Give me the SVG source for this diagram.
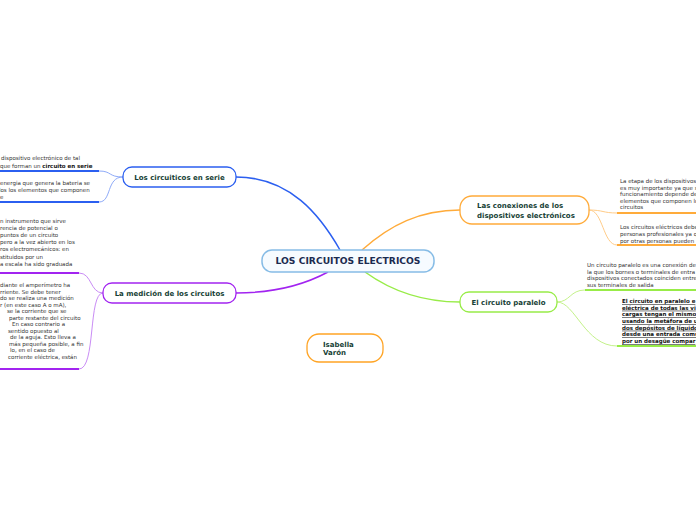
<svg xmlns="http://www.w3.org/2000/svg" width="696" height="520" viewBox="0 0 696 520">
<style>
.bg{fill:#ffffff}
.node{fill:#ffffff;stroke-width:1.3}
.lbl{font-family:"DejaVu Sans",Verdana,sans-serif;font-weight:bold;font-size:7px;fill:#173f36}
.root{font-family:"DejaVu Sans",Verdana,sans-serif;font-weight:bold;font-size:9.2px;fill:#1b2b50}
.leaf{font-family:"DejaVu Sans",Verdana,sans-serif;font-size:5.5px;fill:#333333}
.leafb{font-family:"DejaVu Sans",Verdana,sans-serif;font-size:5.5px;font-weight:bold;fill:#111111;text-decoration:underline}
.b{font-weight:bold;fill:#111111}
.main{fill:none;stroke-width:1.5}
.sub{fill:none;stroke-width:1}
.ul{fill:none;stroke-width:2}
</style>
<rect class="bg" x="0" y="0" width="696" height="520"/>
<g id="connectors">
  <path class="main" stroke="#2b5ff0" d="M340,250 C320,215 290,177 236,177"/>
  <path class="main" stroke="#ffab3a" d="M362,250 C390,225 420,210 460,210"/>
  <path class="main" stroke="#98ec48" d="M365,272 C390,290 420,302 460,302"/>
  <path class="main" stroke="#a224f0" d="M328,272 C300,287 270,293 236,293"/>
  <path class="sub" stroke="#8eaaf8" d="M123,177 C108,177 112,171 99,171"/>
  <path class="sub" stroke="#8eaaf8" d="M123,177 C106,177 112,202 99,202"/>
  <path class="ul" stroke="#2b5ff0" d="M0,171 H99"/>
  <path class="ul" stroke="#2b5ff0" d="M0,202 H99"/>
  <path class="sub" stroke="#c98cf5" d="M103,293 C90,293 92,273 79,273"/>
  <path class="sub" stroke="#c98cf5" d="M103,293 C88,293 96,369 79,369"/>
  <path class="ul" stroke="#a224f0" d="M0,273 H79"/>
  <path class="ul" stroke="#a224f0" d="M0,369 H79"/>
  <path class="sub" stroke="#ffcc88" d="M589,210 C603,210 603,213 617,213"/>
  <path class="sub" stroke="#ffcc88" d="M589,210 C603,210 603,245 617,245"/>
  <path class="ul" stroke="#ffab3a" d="M617,213 H696"/>
  <path class="ul" stroke="#ffab3a" d="M617,245 H696"/>
  <path class="sub" stroke="#c4f28a" d="M557,302 C570,302 570,290 585,290"/>
  <path class="sub" stroke="#c4f28a" d="M557,302 C575,302 585,346 617,346"/>
  <path class="ul" stroke="#98ec48" d="M585,290 H696"/>
  <path class="ul" stroke="#98ec48" d="M617,346 H696"/>
</g>
<g id="root">
  <rect x="262" y="250" width="172" height="22" rx="10" fill="#f6fbff" stroke="#86bce6" stroke-width="1.5"/>
  <text class="root" x="348" y="264" text-anchor="middle">LOS CIRCUITOS ELECTRICOS</text>
</g>
<g id="serie">
  <rect class="node" x="123" y="167" width="113" height="20" rx="9" stroke="#2b5ff0"/>
  <text class="lbl" x="179.5" y="180" text-anchor="middle">Los circuiticos en serie</text>
</g>
<g id="medicion">
  <rect class="node" x="103" y="283" width="133" height="20" rx="9" stroke="#a224f0"/>
  <text class="lbl" x="169.5" y="295.5" text-anchor="middle">La medición de los circuitos</text>
</g>
<g id="conexiones">
  <rect class="node" x="460" y="196" width="129" height="28" rx="12" stroke="#ffab3a"/>
  <text class="lbl" x="477" y="208">Las conexiones de los</text>
  <text class="lbl" x="477" y="217.5">dispositivos electrónicos</text>
</g>
<g id="paralelo">
  <rect class="node" x="460" y="292" width="97" height="20" rx="9" stroke="#98ec48"/>
  <text class="lbl" x="508.5" y="305" text-anchor="middle">El circuito paralelo</text>
</g>
<g id="autor">
  <rect class="node" x="307" y="334" width="76" height="28" rx="12" stroke="#ffa424"/>
  <text class="lbl" x="323" y="347">Isabella</text>
  <text class="lbl" x="323" y="355">Varón</text>
</g>
<g id="serie-leaf1">
  <text class="leaf" x="1" y="160">dispositivo electrónico de tal</text>
  <text class="leaf" x="0" y="167.5">que forman un <tspan class="b">circuito en serie</tspan></text>
</g>
<g id="serie-leaf2">
  <text class="leaf" x="0" y="185">energia que genera la bateria se</text>
  <text class="leaf" x="-3" y="192">dos los elementos que componen</text>
  <text class="leaf" x="0" y="199">e</text>
</g>
<g id="medicion-leaf1">
  <text class="leaf" x="0" y="222.5">n instrumento que sirve</text>
  <text class="leaf" x="0" y="229.7">rencia de potencial o</text>
  <text class="leaf" x="0" y="236.9">puntos de un circuito</text>
  <text class="leaf" x="0" y="244.1">pero a la vez abierto en los</text>
  <text class="leaf" x="0" y="251.3">ros electromecánicos: en</text>
  <text class="leaf" x="0" y="258.5">stituidos por un</text>
  <text class="leaf" x="0" y="265.7">a escala ha sido graduada</text>
</g>
<g id="medicion-leaf2">
  <text class="leaf" x="0" y="287">diante el amperímetro ha</text>
  <text class="leaf" x="0" y="293.5">rriente. Se debe tener</text>
  <text class="leaf" x="0" y="300">do se realiza una medición</text>
  <text class="leaf" x="0" y="306.5">r (en este caso A o mA),</text>
  <text class="leaf" x="7" y="313">se la corriente que se</text>
  <text class="leaf" x="9" y="319.5">parte restante del circuito</text>
  <text class="leaf" x="12" y="326">En caso contrario a</text>
  <text class="leaf" x="8" y="332.5">sentido opuesto al</text>
  <text class="leaf" x="10" y="339">de la aguja. Esto lleva a</text>
  <text class="leaf" x="9" y="345.5">más pequeña posible, a fin</text>
  <text class="leaf" x="10" y="352">lo, en el caso de</text>
  <text class="leaf" x="8" y="358.5">corriente eléctrica, están</text>
</g>
<g id="conexiones-leaf1">
  <text class="leaf" x="620" y="183">La etapa de los dispositivos</text>
  <text class="leaf" x="620" y="189.6">es muy importante ya que s</text>
  <text class="leaf" x="620" y="196.2">funcionamiento depende de</text>
  <text class="leaf" x="620" y="202.8">elementos que componen lo</text>
  <text class="leaf" x="620" y="209.4">circuitos</text>
</g>
<g id="conexiones-leaf2">
  <text class="leaf" x="620" y="228.5">Los circuitos eléctricos debe</text>
  <text class="leaf" x="620" y="235.5">personas profesionales ya q</text>
  <text class="leaf" x="620" y="242.5">por otras personas pueden</text>
</g>
<g id="paralelo-leaf1">
  <text class="leaf" x="587" y="267">Un circuito paralelo es una conexión de</text>
  <text class="leaf" x="587" y="273.6">la que los bornes o terminales de entra</text>
  <text class="leaf" x="587" y="280.2">dispositivos conectados coinciden entre</text>
  <text class="leaf" x="587" y="286.8">sus terminales de salida</text>
</g>
<g id="paralelo-leaf2">
  <text class="leafb" x="622" y="303">El circuito en paralelo e</text>
  <text class="leafb" x="622" y="309.7">eléctrica de todas las vi</text>
  <text class="leafb" x="622" y="316.3">cargas tengan el mismo</text>
  <text class="leafb" x="622" y="323">usando la metáfora de u</text>
  <text class="leafb" x="622" y="329.7">dos depósitos de líquido</text>
  <text class="leafb" x="622" y="336.3">desde una entrada comu</text>
  <text class="leafb" x="622" y="343">por un desagüe compar</text>
</g>
</svg>
